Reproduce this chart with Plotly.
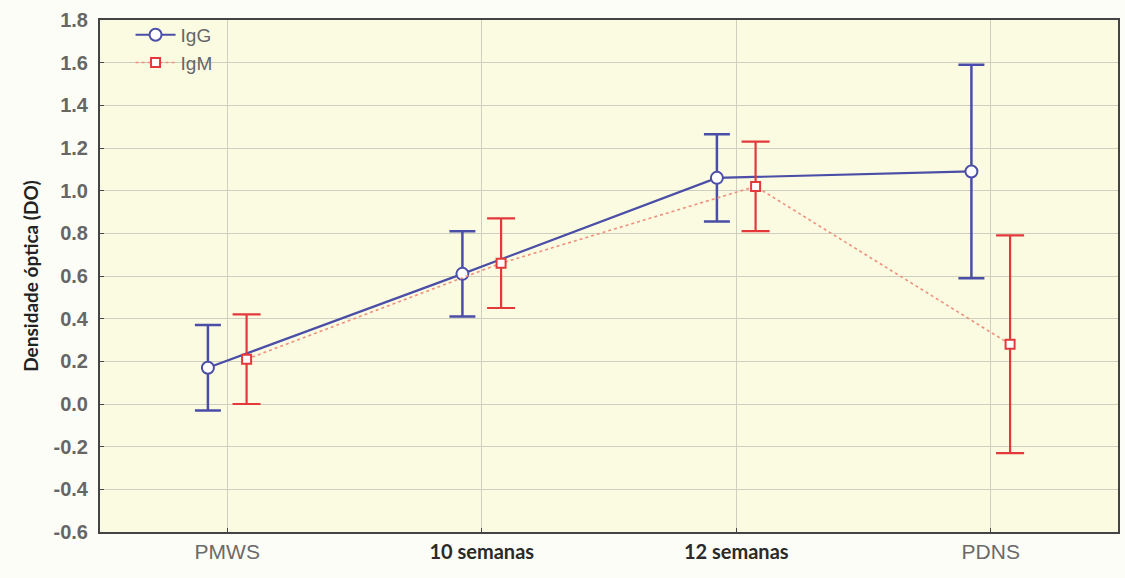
import plotly.graph_objects as go

categories = ["PMWS", "10 semanas", "12 semanas", "PDNS"]
igg_mean = [0.17, 0.61, 1.06, 1.09]
igg_err = [0.20, 0.20, 0.205, 0.50]
igm_mean = [0.21, 0.66, 1.02, 0.28]
igm_err = [0.21, 0.21, 0.21, 0.51]
y_ticks = [-0.6, -0.4, -0.2, 0.0, 0.2, 0.4, 0.6, 0.8, 1.0, 1.2, 1.4, 1.6, 1.8]

blue = "#4a4ea6"
red = "#e5383b"
offset = 0.076
xi = list(range(len(categories)))

def style_label(lbl):
    if "semanas" in lbl:
        return f"<span style='font-family:Lato;font-weight:bold;color:#2a2a2a;font-size:20px'>{lbl}</span>"
    return lbl

fig = go.Figure()
fig.add_trace(go.Scatter(
    x=[i - offset for i in xi], y=igg_mean, name="IgG",
    mode="lines+markers",
    line=dict(color=blue, width=2.2),
    marker=dict(symbol="circle", size=12, color="white", line=dict(color=blue, width=2)),
    error_y=dict(type="data", array=igg_err, visible=True, color=blue, thickness=2.5, width=13),
))
fig.add_trace(go.Scatter(
    x=[i + offset for i in xi], y=igm_mean, name="IgM",
    mode="lines+markers",
    line=dict(color="#f0907c", width=1.6, dash="dot"),
    marker=dict(symbol="square", size=9, color="white", line=dict(color=red, width=2)),
    error_y=dict(type="data", array=igm_err, visible=True, color=red, thickness=2.2, width=14),
))

fig.update_layout(
    width=1125, height=578,
    margin=dict(l=100, r=5, t=20, b=46),
    paper_bgcolor="#fdfdf7",
    plot_bgcolor="#fbfbe2",
    font=dict(family="Liberation Sans, Arial, sans-serif", size=14, color="#555555"),
    showlegend=True,
    legend=dict(x=0.03, y=1.008, xanchor="left", yanchor="top",
                bgcolor="rgba(0,0,0,0)", font=dict(size=19, color="#666666"),
                tracegroupgap=0, itemwidth=40),
)
fig.update_xaxes(
    range=[-0.5, 3.5], tickmode="array", tickvals=xi,
    ticktext=[style_label(c) for c in categories],
    showgrid=True, gridcolor="#cfcfc0", gridwidth=1,
    showline=True, linecolor="#444444", linewidth=2, mirror=True,
    ticks="inside", ticklen=4, tickcolor="#444444",
    tickfont=dict(size=21, color="#6a6a6a"), zeroline=False,
)
fig.update_yaxes(
    range=[-0.6, 1.8], tickmode="array", tickvals=y_ticks,
    ticktext=[f"{v:.1f}" for v in y_ticks],
    showgrid=True, gridcolor="#cfcfc0", gridwidth=1,
    showline=True, linecolor="#444444", linewidth=2, mirror=True,
    ticks="inside", ticklen=4, tickcolor="#444444",
    tickfont=dict(size=20, color="#666666", weight="bold"), zeroline=False,
    ticklabelstandoff=6,
    title=dict(text="Densidade óptica (DO)",
               font=dict(family="Lato", size=19, color="#222222", weight="bold"), standoff=10),
)

fig.write_html("out.html")
